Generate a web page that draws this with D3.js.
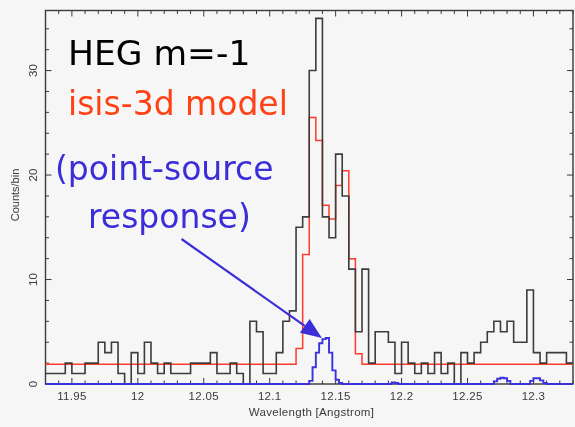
<!DOCTYPE html>
<html>
<head>
<meta charset="utf-8">
<script src="https://cdn.jsdelivr.net/npm/d3@7"></script>
<style>
  html, body { margin: 0; padding: 0; background: #f6f6f6; }
  svg { display: block; }
</style>
</head>
<body>
<svg id="chart" width="575" height="427"></svg>
<script>
// HEG m=-1 counts spectrum near 12.1 Å with the isis-3d model and the point-source response

// observed counts, 0.005 Å bins starting at binStart
const binStart = 11.93;
const binWidth = 0.005;
const observedCounts = [
  1, 1, 1, 2, 1, 1, 2, 2, 4, 3,
  4, 1, 0, 3, 1, 4, 2, 1, 2, 1,
  1, 1, 2, 2, 2, 3, 1, 1, 2, 1,
  0, 6, 5, 1, 1, 3, 6, 7, 15, 16,
  30, 35, 16, 14, 22, 18, 11, 5, 11, 2,
  5, 5, 4, 1, 4, 2, 1, 2, 1, 3,
  1, 2, 0, 3, 2, 3, 4, 5, 6, 5,
  6, 4, 4, 9, 3, 2, 3, 3, 3, 2
];

// isis-3d model on the same bins
const modelCounts = [
  1.9, 1.9, 1.9, 1.9, 1.9, 1.9, 1.9, 1.9, 1.9, 1.9,
  1.9, 1.9, 1.9, 1.9, 1.9, 1.9, 1.9, 1.9, 1.9, 1.9,
  1.9, 1.9, 1.9, 1.9, 1.9, 1.9, 1.9, 1.9, 1.9, 1.9,
  1.9, 1.9, 1.9, 1.9, 1.9, 1.9, 1.9, 1.9, 3.4, 12.4,
  25.5, 23.3, 17.1, 15.8, 19.0, 20.4, 12.0, 2.9, 1.9, 1.9,
  1.9, 1.9, 1.9, 1.9, 1.9, 1.9, 1.9, 1.9, 1.9, 1.9,
  1.9, 1.9, 1.9, 1.9, 1.9, 1.9, 1.9, 1.9, 1.9, 1.9,
  1.9, 1.9, 1.9, 1.9, 1.9, 1.9, 1.9, 1.9, 1.9, 1.9
];

// point-source response, 0.0025 Å bins starting at psfStart
const psfStart = 11.93;
const psfWidth = 0.0025;
const psfCounts = [
  0, 0, 0, 0, 0, 0, 0, 0, 0, 0, 0, 0, 0, 0, 0, 0, 0, 0, 0, 0,
  0, 0, 0, 0, 0, 0, 0, 0, 0, 0, 0, 0, 0, 0, 0, 0, 0, 0, 0, 0,
  0, 0, 0, 0, 0, 0, 0, 0, 0, 0, 0, 0, 0, 0, 0, 0, 0, 0, 0, 0,
  0, 0, 0, 0, 0, 0, 0, 0, 0, 0, 0, 0, 0, 0, 0, 0, 0, 0, 0, 0,
  0.3, 1.6, 3.0, 3.9, 4.3, 4.4, 3.0, 1.3, 0.4, 0.1, 0, 0, 0, 0, 0, 0, 0, 0, 0, 0,
  0, 0, 0, 0, 0, 0.15, 0.1, 0, 0, 0, 0, 0, 0, 0, 0, 0, 0, 0, 0, 0,
  0, 0, 0, 0, 0, 0, 0, 0, 0, 0, 0, 0, 0, 0, 0, 0, 0.25, 0.5, 0.6, 0.55,
  0.3, 0, 0, 0, 0, 0, 0, 0.3, 0.55, 0.55, 0.35, 0.1, 0, 0, 0, 0, 0, 0, 0, 0
];

const xTickValues = [11.95, 12, 12.05, 12.1, 12.15, 12.2, 12.25, 12.3];
const xTickLabels = ["11.95", "12", "12.05", "12.1", "12.15", "12.2", "12.25", "12.3"];
const yTickValues = [0, 10, 20, 30];
const yTickLabels = ["0", "10", "20", "30"];

const titleLines = [
  { text: "HEG m=-1", color: "#050505" },
  { text: "isis-3d model", color: "#ff4214" }
];
const noteLines = ["(point-source", "response)"];

// ---- layout ----
const svg = d3.select("#chart");
const W = 575, H = 427;
const plot = { left: 45.5, right: 573, top: 10.5, bottom: 384 };

svg.append("defs").append("filter")
  .attr("id", "soft")
  .attr("x", "-5%").attr("y", "-5%").attr("width", "110%").attr("height", "110%")
  .append("feGaussianBlur").attr("stdDeviation", 0.55);

svg.append("rect").attr("width", W).attr("height", H).attr("fill", "#f6f6f6");
const g = svg.append("g").attr("filter", "url(#soft)");

const x = d3.scaleLinear().domain([11.93, 12.33]).range([plot.left, plot.right]);
const y = d3.scaleLinear().domain([0, 35.75]).range([plot.bottom, plot.top]);

// step path for a histogram given its first edge and bin width
function stepPoints(start, width, values) {
  const pts = values.map((v, i) => [start + i * width, v]);
  pts.push([start + values.length * width, values[values.length - 1]]);
  return pts;
}
const stepLine = d3.line()
  .x(d => x(d[0]))
  .y(d => y(d[1]))
  .curve(d3.curveStepAfter);

// ---- frame and ticks ----
const axisColor = "#3a3a3a";
const minorX = x.ticks(40);
const minorY = y.ticks(18).filter(v => v <= 35.75);

const ticks = g.append("g").attr("stroke", axisColor).attr("stroke-width", 1);
// bottom (upward) and top (downward)
minorX.forEach(v => {
  const major = xTickValues.some(t => Math.abs(t - v) < 1e-6);
  const len = major ? 6 : 3.5;
  ticks.append("line").attr("x1", x(v)).attr("x2", x(v)).attr("y1", plot.bottom).attr("y2", plot.bottom - len);
  ticks.append("line").attr("x1", x(v)).attr("x2", x(v)).attr("y1", plot.top).attr("y2", plot.top + len);
});
// left (rightward) and right (leftward)
minorY.forEach(v => {
  const major = yTickValues.includes(v);
  const len = major ? 6 : 3.5;
  ticks.append("line").attr("y1", y(v)).attr("y2", y(v)).attr("x1", plot.left).attr("x2", plot.left + len);
  ticks.append("line").attr("y1", y(v)).attr("y2", y(v)).attr("x1", plot.right).attr("x2", plot.right - len);
});

g.append("rect")
  .attr("x", plot.left).attr("y", plot.top)
  .attr("width", plot.right - plot.left).attr("height", plot.bottom - plot.top)
  .attr("fill", "none").attr("stroke", axisColor).attr("stroke-width", 1.4);

// tick labels
const labelFont = "'Liberation Sans', Arial, sans-serif";
g.append("g").selectAll("text")
  .data(xTickValues)
  .join("text")
  .attr("x", d => x(d))
  .attr("y", 400)
  .attr("text-anchor", "middle")
  .attr("font-family", labelFont)
  .attr("font-size", 11.5)
  .attr("letter-spacing", 0.3)
  .attr("fill", "#3a3a3a")
  .text((d, i) => xTickLabels[i]);

g.append("g").selectAll("text")
  .data(yTickValues)
  .join("text")
  .attr("transform", d => `translate(36.5,${y(d)}) rotate(-90)`)
  .attr("text-anchor", "middle")
  .attr("font-family", labelFont)
  .attr("font-size", 11.5)
  .attr("fill", "#3a3a3a")
  .text((d, i) => yTickLabels[i]);

g.append("text")
  .attr("x", 311.5).attr("y", 416)
  .attr("text-anchor", "middle")
  .attr("font-family", labelFont)
  .attr("font-size", 11.5)
  .attr("letter-spacing", 0.3)
  .attr("fill", "#3a3a3a")
  .text("Wavelength [Angstrom]");

g.append("text")
  .attr("transform", "translate(19,195) rotate(-90)")
  .attr("text-anchor", "middle")
  .attr("font-family", labelFont)
  .attr("font-size", 11)
  .attr("fill", "#3a3a3a")
  .text("Counts/bin");

// ---- histograms ----
g.append("path")
  .datum(stepPoints(binStart, binWidth, modelCounts))
  .attr("d", stepLine)
  .attr("fill", "none")
  .attr("stroke", "#ff3b2a")
  .attr("stroke-width", 1.5);

g.append("path")
  .datum(stepPoints(binStart, binWidth, observedCounts))
  .attr("d", stepLine)
  .attr("fill", "none")
  .attr("stroke", "#3c3c3c")
  .attr("stroke-width", 1.6);

g.append("path")
  .datum(stepPoints(psfStart, psfWidth, psfCounts))
  .attr("d", stepLine)
  .attr("fill", "none")
  .attr("stroke", "#3a30dc")
  .attr("stroke-width", 1.9);

// ---- annotation ----
const annoFont = "'DejaVu Sans', Verdana, sans-serif";
g.append("text")
  .attr("x", 68).attr("y", 65)
  .attr("font-family", annoFont).attr("font-size", 34.5)
  .attr("fill", titleLines[0].color)
  .text(titleLines[0].text);
g.append("text")
  .attr("x", 68).attr("y", 115)
  .attr("font-family", annoFont).attr("font-size", 33)
  .attr("fill", titleLines[1].color)
  .text(titleLines[1].text);

const noteColor = "#3b2fd8";
g.append("text")
  .attr("x", 55).attr("y", 180)
  .attr("font-family", annoFont).attr("font-size", 33)
  .attr("fill", noteColor)
  .text(noteLines[0]);
g.append("text")
  .attr("x", 88).attr("y", 228)
  .attr("font-family", annoFont).attr("font-size", 33)
  .attr("fill", noteColor)
  .text(noteLines[1]);

// arrow pointing at the response peak
const tail = [181.5, 239];
const tip = [x(12.1396), y(4.4)];
const ang = Math.atan2(tip[1] - tail[1], tip[0] - tail[0]);
const headLen = 21, headHalf = 8.5;
const base = [tip[0] - headLen * Math.cos(ang), tip[1] - headLen * Math.sin(ang)];
g.append("line")
  .attr("x1", tail[0]).attr("y1", tail[1])
  .attr("x2", base[0]).attr("y2", base[1])
  .attr("stroke", noteColor).attr("stroke-width", 2.2);
g.append("path")
  .attr("d", d3.line()([
    tip,
    [base[0] + headHalf * Math.sin(ang), base[1] - headHalf * Math.cos(ang)],
    [base[0] - headHalf * Math.sin(ang), base[1] + headHalf * Math.cos(ang)]
  ]) + "Z")
  .attr("fill", noteColor);
</script>
</body>
</html>
